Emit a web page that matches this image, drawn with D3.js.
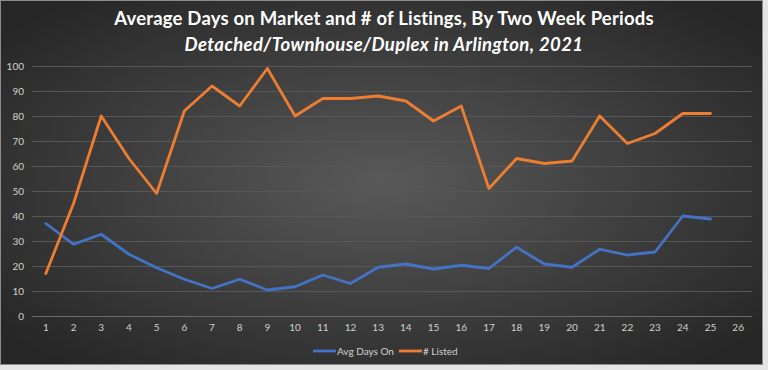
<!DOCTYPE html>
<html>
<head>
<meta charset="utf-8">
<script src="https://d3js.org/d3.v7.min.js"></script>
<style>
  body { margin: 0; background: #e4e4e4; }
  text { font-family: Lato, "Open Sans", sans-serif; }
  .tick text { fill: #d0d0d0; font-size: 10px; }
</style>
</head>
<body>
<script>
// two week periods
var periods = d3.range(1, 27);
var avgDaysOn = [37, 28.7, 32.7, 24.7, 19.3, 14.7, 11, 14.7, 10.4, 11.7, 16.4, 13, 19.5,
                 20.8, 18.8, 20.3, 19, 27.5, 20.8, 19.5, 26.7, 24.4, 25.6, 40, 38.8];
var listed = [17, 45, 80, 63, 49, 82, 92, 84, 99, 80, 87, 87, 88,
              86, 78, 84, 51, 63, 61, 62, 80, 69, 73, 81, 81];
var yTicks = [0, 10, 20, 30, 40, 50, 60, 70, 80, 90, 100];

var w = 768;
var h = 370;
var margin = {
  top: 66,
  bottom: 54,
  left: 32,
  right: 16
};
var width = w - margin.left - margin.right;
var height = h - margin.top - margin.bottom;

var svg = d3.select('body').append('svg')
            .attr('width', w)
            .attr('height', h)
            .style('display', 'block')

var defs = svg.append('defs')
var grad = defs.append('radialGradient')
               .attr('id', 'bg')
               .attr('cx', '50%')
               .attr('cy', '50%')
               .attr('r', '65%')
grad.append('stop').attr('offset', '0%').attr('stop-color', '#595959')
grad.append('stop').attr('offset', '100%').attr('stop-color', '#262626')

svg.append('rect')
   .attr('x', 0.5)
   .attr('y', 0.5)
   .attr('width', 762)
   .attr('height', 364)
   .attr('fill', 'url(#bg)')
   .attr('stroke', '#8c8c8c')

var chart = svg.append('g')
              .attr('transform', 'translate(' + margin.left + ',' + margin.top + ')')

var x = d3.scaleBand()
          .domain(periods)
          .range([0, width])
var y = d3.scaleLinear()
          .domain([0, 100])
          .range([height, 0])

// gridlines
chart.selectAll('.grid')
     .data(yTicks)
     .enter()
       .append('line')
       .attr('x1', 0)
       .attr('x2', width)
       .attr('y1', function(d){ return Math.round(y(d)) + 0.5 })
       .attr('y2', function(d){ return Math.round(y(d)) + 0.5 })
       .attr('stroke', function(d){ return d === 0 ? '#6a6a6a' : '#575757' })
       .attr('stroke-width', 1)

var xAxis = d3.axisBottom(x).tickSize(0).tickPadding(8)
var yAxis = d3.axisLeft(y).tickValues(yTicks).tickSize(0).tickPadding(8)

chart.append('g')
     .attr('transform', 'translate(0,' + height + ')')
     .call(xAxis)
     .call(function(g){ g.select('.domain').remove() })
chart.append('g')
     .call(yAxis)
     .call(function(g){ g.select('.domain').remove() })

chart.selectAll('.tick text').style('font-family', 'Lato, sans-serif')

var line = d3.line()
             .x(function(d, i){ return x(periods[i]) + x.bandwidth() / 2 })
             .y(function(d){ return y(d) })

chart.append('path')
     .datum(avgDaysOn)
     .attr('d', line)
     .attr('fill', 'none')
     .attr('stroke', '#4472C4')
     .attr('stroke-width', 2.8)
     .attr('stroke-linejoin', 'round')
     .attr('stroke-linecap', 'round')

chart.append('path')
     .datum(listed)
     .attr('d', line)
     .attr('fill', 'none')
     .attr('stroke', '#ED7D31')
     .attr('stroke-width', 2.8)
     .attr('stroke-linejoin', 'round')
     .attr('stroke-linecap', 'round')

// titles
svg.append('text')
   .attr('x', 384)
   .attr('y', 25)
   .attr('text-anchor', 'middle')
   .attr('fill', '#ffffff')
   .style('font-size', '18.5px')
   .style('font-weight', 'bold')
   .style('letter-spacing', '0.2px')
   .text('Average Days on Market and # of Listings, By Two Week Periods')
svg.append('text')
   .attr('x', 384)
   .attr('y', 51)
   .attr('text-anchor', 'middle')
   .attr('fill', '#ffffff')
   .style('font-size', '18.5px')
   .style('font-weight', 'bold')
   .style('font-style', 'italic')
   .style('letter-spacing', '0.4px')
   .text('Detached/Townhouse/Duplex in Arlington, 2021')

// legend
var legendItems = [
  {name: 'Avg Days On', color: '#4472C4', x: 313},
  {name: '# Listed', color: '#ED7D31', x: 399}
]
var legend = svg.selectAll('.legend')
                .data(legendItems)
                .enter()
                  .append('g')
                  .attr('transform', function(d){ return 'translate(' + d.x + ',351)' })
legend.append('line')
      .attr('x1', 0)
      .attr('x2', 23)
      .attr('stroke', function(d){ return d.color })
      .attr('stroke-width', 2.8)
legend.append('text')
      .attr('x', 24)
      .attr('y', 3.5)
      .attr('fill', '#d0d0d0')
      .style('font-size', '10px')
      .text(function(d){ return d.name })
</script>
</body>
</html>
